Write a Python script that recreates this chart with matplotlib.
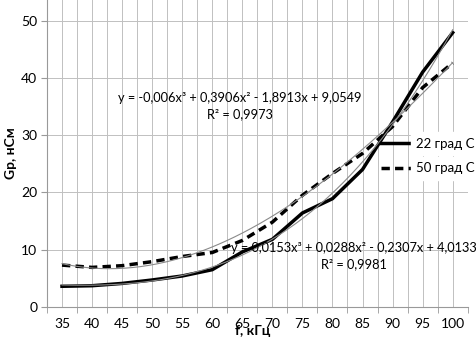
import numpy as np
import matplotlib as mpl

mpl.use("Agg")
import matplotlib.pyplot as plt

# frequencies, kHz (category axis)
freq = [35, 40, 45, 50, 55, 60, 65, 70, 75, 80, 85, 90, 95, 100]
# conductance Gp, nS
gp_22 = [3.6, 3.7, 4.1, 4.7, 5.4, 6.5, 9.6, 11.8, 16.4, 18.9, 24.0, 32.3, 41.0, 47.9]
gp_50 = [7.3, 6.9, 7.2, 7.9, 8.8, 9.5, 11.6, 14.8, 19.5, 23.3, 26.8, 31.5, 38.3, 42.6]

# cubic trendline coefficients as printed on the chart (x = category number 1..14)
trend_22 = [0.0153, 0.0288, -0.2307, 4.0133]
trend_50 = [-0.006, 0.3906, -1.8913, 9.0549]
eq_22 = "y = 0,0153x³ + 0,0288x² - 0,2307x + 4,0133\nR² = 0,9981"
eq_50 = "y = -0,006x³ + 0,3906x² - 1,8913x + 9,0549\nR² = 0,9973"

plt.rcParams["font.family"] = ["Lato", "DejaVu Sans"]
plt.rcParams["font.size"] = 10

fig = plt.figure(figsize=(4.77, 3.41), dpi=100)
ax = fig.add_axes([0.0985, 0.100, 0.882, 0.900])

idx = np.arange(len(freq))
xs = np.linspace(0, len(freq) - 1, 200)

ax.plot(idx, gp_22, "-", color="black", lw=2.5, label="22 град C", zorder=3)
ax.plot(idx, gp_50, "--", color="black", lw=2.5, dashes=(2.4, 1.5), label="50 град C",
        zorder=3)
ax.plot(xs, np.polyval(trend_22, xs + 1), "-", color="#8a8a8a", lw=0.8, zorder=4)
ax.plot(xs, np.polyval(trend_50, xs + 1), "-", color="#8a8a8a", lw=0.8, zorder=4)

ax.text(5.93, 35.1, eq_50, ha="center", va="center", fontsize=9.2, linespacing=1.45,
        zorder=5)
ax.text(9.70, 8.9, eq_22, ha="center", va="center", fontsize=9.2, linespacing=1.45,
        zorder=5)

ax.set_xlim(-0.5, len(freq) - 0.5)
ax.set_ylim(0, 53.6)
ax.set_xticks(idx)
ax.set_xticklabels([str(f) for f in freq])
ax.set_xticks(np.arange(-0.5, len(freq), 1.0), minor=True)
ax.set_yticks([0, 10, 20, 30, 40, 50])
ax.tick_params(axis="x", which="major", length=0, pad=8)
ax.tick_params(axis="x", which="minor", length=4, color="#999999")
ax.tick_params(axis="y", length=4, color="#999999", pad=3)

ax.grid(True, which="both", color="#c0c0c0", lw=0.7)
ax.set_axisbelow(True)
for s in ["top", "right"]:
    ax.spines[s].set_visible(False)
ax.spines["left"].set_color("#999999")
ax.spines["bottom"].set_color("#999999")

ax.set_ylabel("Gp, нСм", fontweight="bold", fontsize=10, labelpad=3)
ax.set_xlabel("f, кГц", fontweight="bold", fontsize=10)
ax.xaxis.set_label_coords(0.49, -0.06)

leg = ax.legend(loc="upper left", bbox_to_anchor=(0.765, 0.59), frameon=False,
                handlelength=2.4, handletextpad=0.3, labelspacing=0.95, fontsize=9.5)
for t in leg.get_texts():
    t.set_backgroundcolor("white")

fig.savefig("out.png", dpi=100)
